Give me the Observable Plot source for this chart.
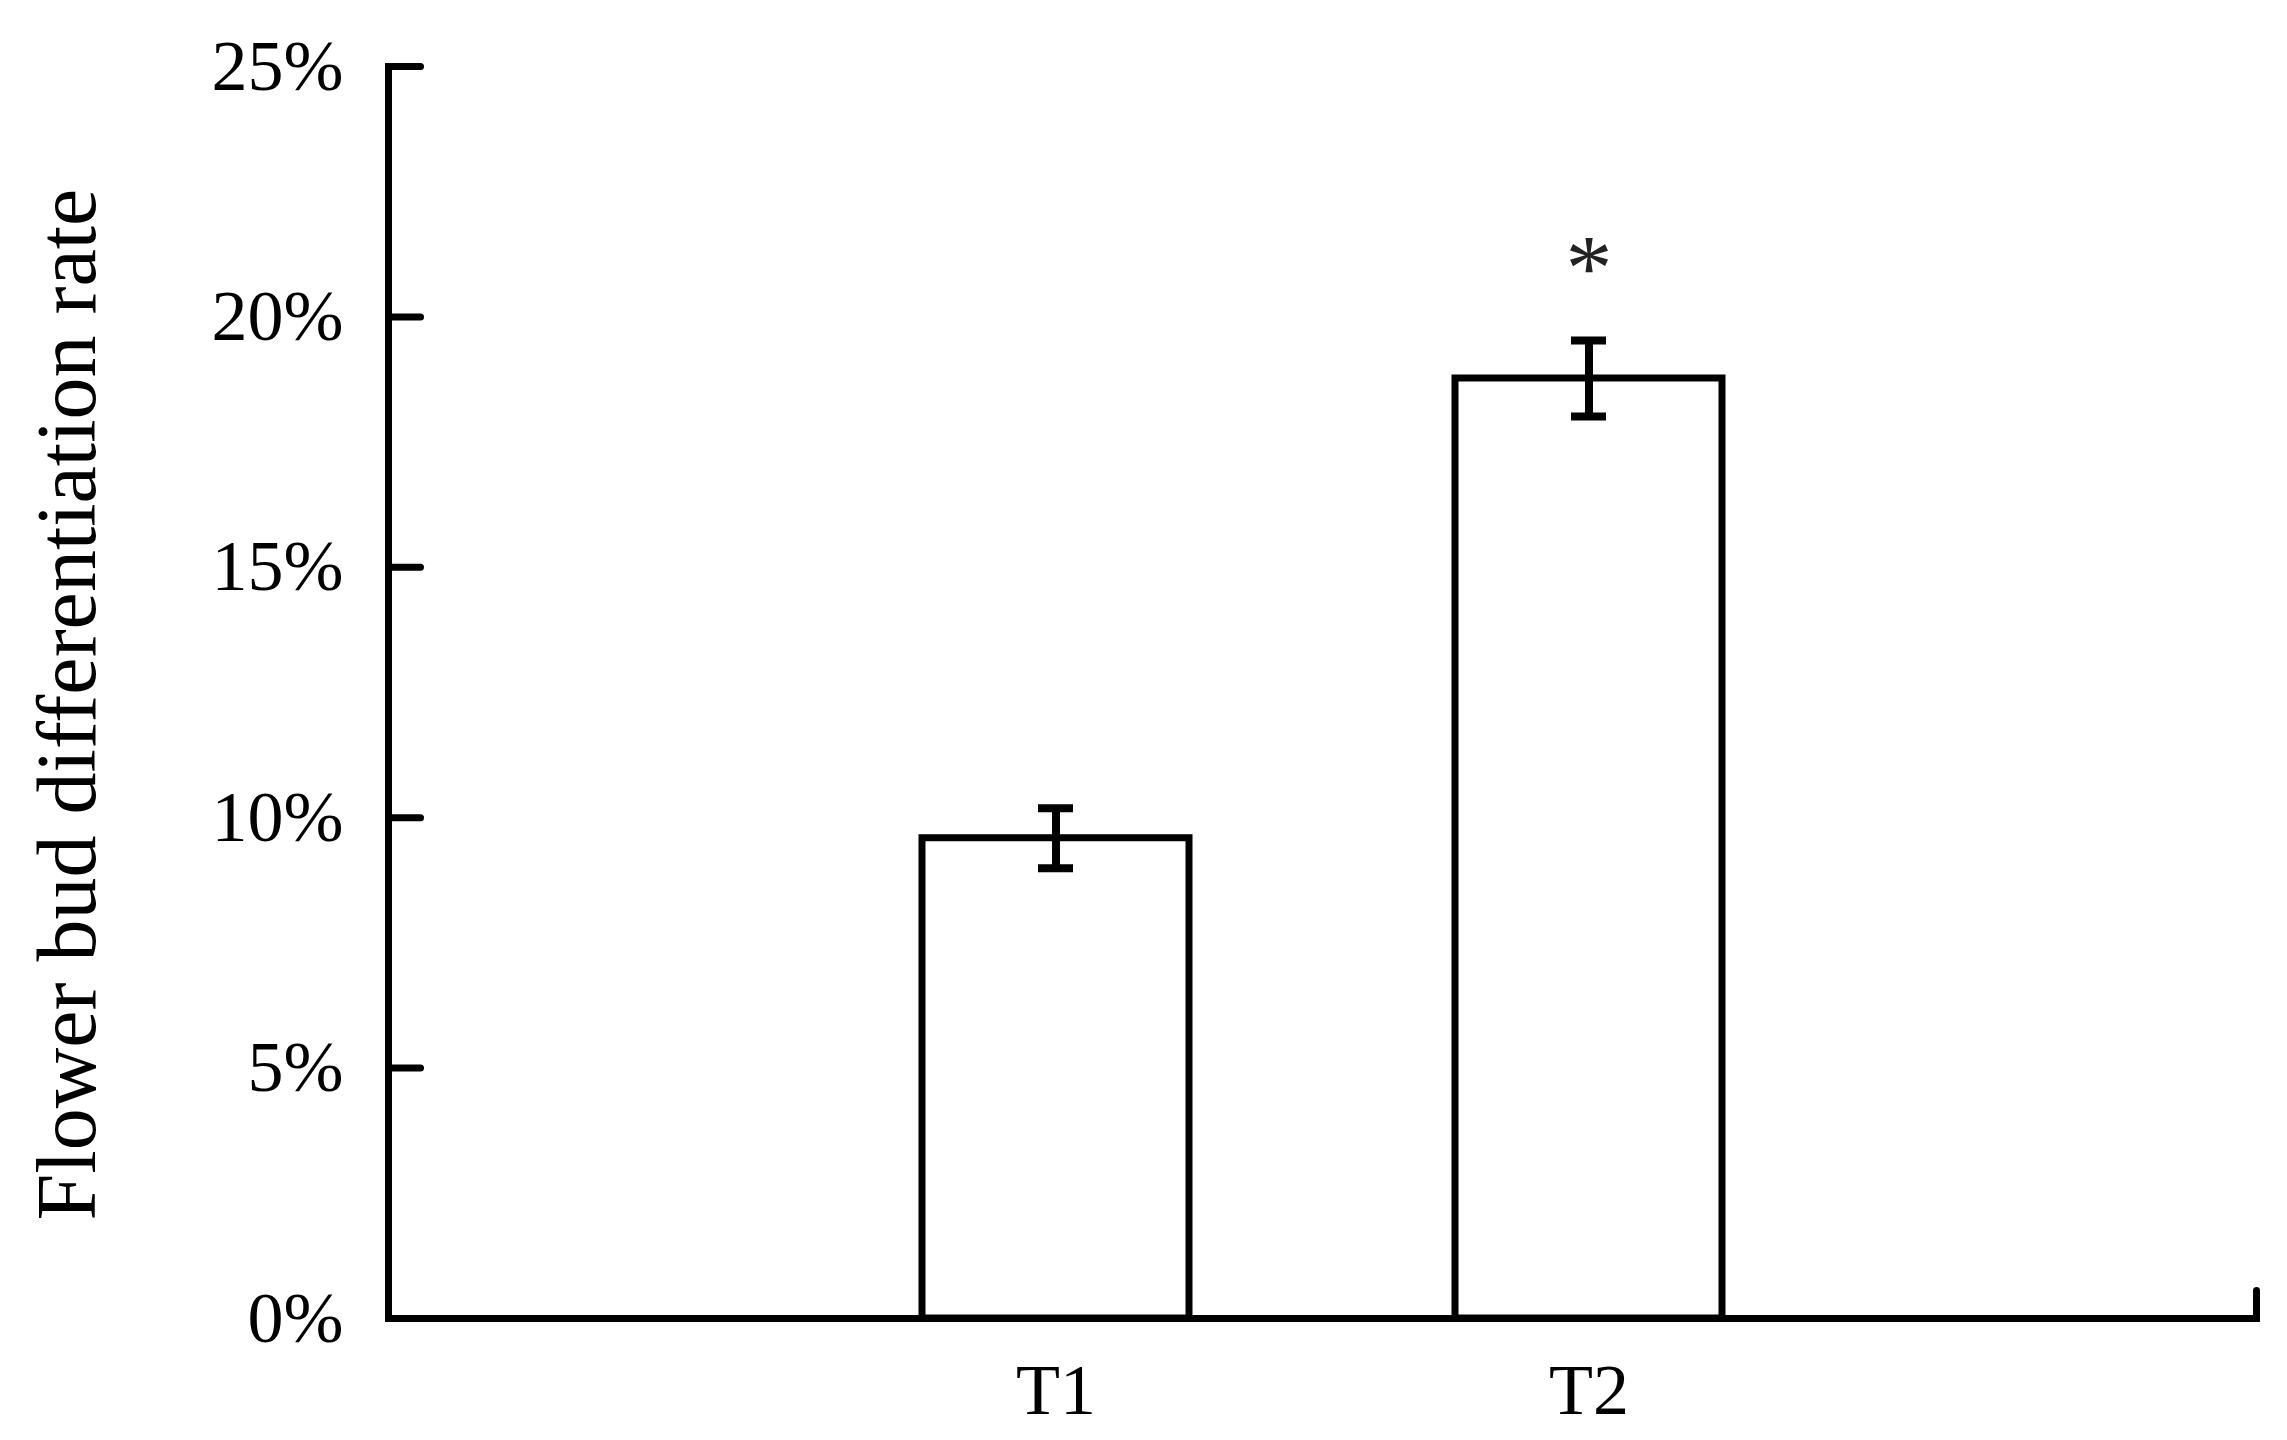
<!DOCTYPE html>
<html>
<head>
<meta charset="utf-8">
<script src="https://cdn.jsdelivr.net/npm/d3@7"></script>
<script src="https://cdn.jsdelivr.net/npm/@observablehq/plot@0.6"></script>
<style>
  html, body { margin: 0; padding: 0; background: #fff; }
  #chart { width: 2287px; height: 1440px; }
</style>
</head>
<body>
<div id="chart"></div>
<script>
// ---- data ----
const categories = ["T1", "T2"];
const means = [0.0959, 0.1877];
const errors = [0.0060, 0.0076];
const significance = ["", "*"];
const yTicks = [0, 0.05, 0.10, 0.15, 0.20, 0.25];
const yTickLabels = ["0%", "5%", "10%", "15%", "20%", "25%"];
const yLabel = "Flower bud differentiation rate";

const rows = categories.map((c, i) => ({cat: c, mean: means[i], err: errors[i], sig: significance[i]}));

const lineShape = {
  draw(context, length) {
    context.moveTo(0, 0);
    context.lineTo(0, -length);
  }
};

const LW = 7;
const FONT = "'Liberation Serif', 'Times New Roman', serif";

const chart = Plot.plot({
  width: 2287,
  height: 1440,
  marginLeft: 388,
  marginRight: 31,
  marginTop: 66,
  marginBottom: 122,
  style: {fontFamily: FONT, fontSize: "72px", color: "black", background: "white"},
  x: {domain: categories, paddingInner: 0.5, paddingOuter: 1, axis: null},
  y: {domain: [0, 0.25], axis: null},
  marks: [
    Plot.barY(rows, {x: "cat", y: "mean", fill: "white", stroke: "black", strokeWidth: LW}),
    Plot.ruleX(rows, {x: "cat", y1: d => d.mean - d.err, y2: d => d.mean + d.err, stroke: "black", strokeWidth: 8}),
    Plot.tickY(rows, {x: "cat", y: d => d.mean + d.err, stroke: "black", strokeWidth: 8, insetLeft: 116, insetRight: 116}),
    Plot.tickY(rows, {x: "cat", y: d => d.mean - d.err, stroke: "black", strokeWidth: 8, insetLeft: 116, insetRight: 116}),
    Plot.text(rows.filter(d => d.sig), {x: "cat", y: d => d.mean + d.err, text: "sig", dy: -72, fontSize: 94, fill: "#222", lineAnchor: "middle"}),
    // axis lines
    Plot.frame({anchor: "left", stroke: "black", strokeWidth: LW}),
    Plot.frame({anchor: "bottom", stroke: "black", strokeWidth: LW}),
    // inward y ticks
    Plot.vector(yTicks, {y: d => d, frameAnchor: "left", rotate: 90, length: 32, anchor: "start", shape: lineShape, stroke: "black", strokeWidth: LW}),
    // end tick at the right of the x axis
    Plot.vector([0], {frameAnchor: "bottom-right", rotate: 0, length: 28, anchor: "start", shape: lineShape, stroke: "black", strokeWidth: LW}),
    Plot.axisY({ticks: yTicks, tickFormat: d => yTickLabels[yTicks.indexOf(d)], tickSize: 0, tickPadding: 45, fontSize: 72, label: null, fill: "black"}),
    Plot.axisX({tickSize: 0, tickPadding: 44, fontSize: 72, label: null, fill: "black"}),
    Plot.text([yLabel], {frameAnchor: "left", rotate: -90, dx: -320, dy: 12, fontSize: 84, textAnchor: "middle", lineAnchor: "middle", fill: "black", text: d => d})
  ]
});

document.getElementById("chart").appendChild(chart);
</script>
</body>
</html>
